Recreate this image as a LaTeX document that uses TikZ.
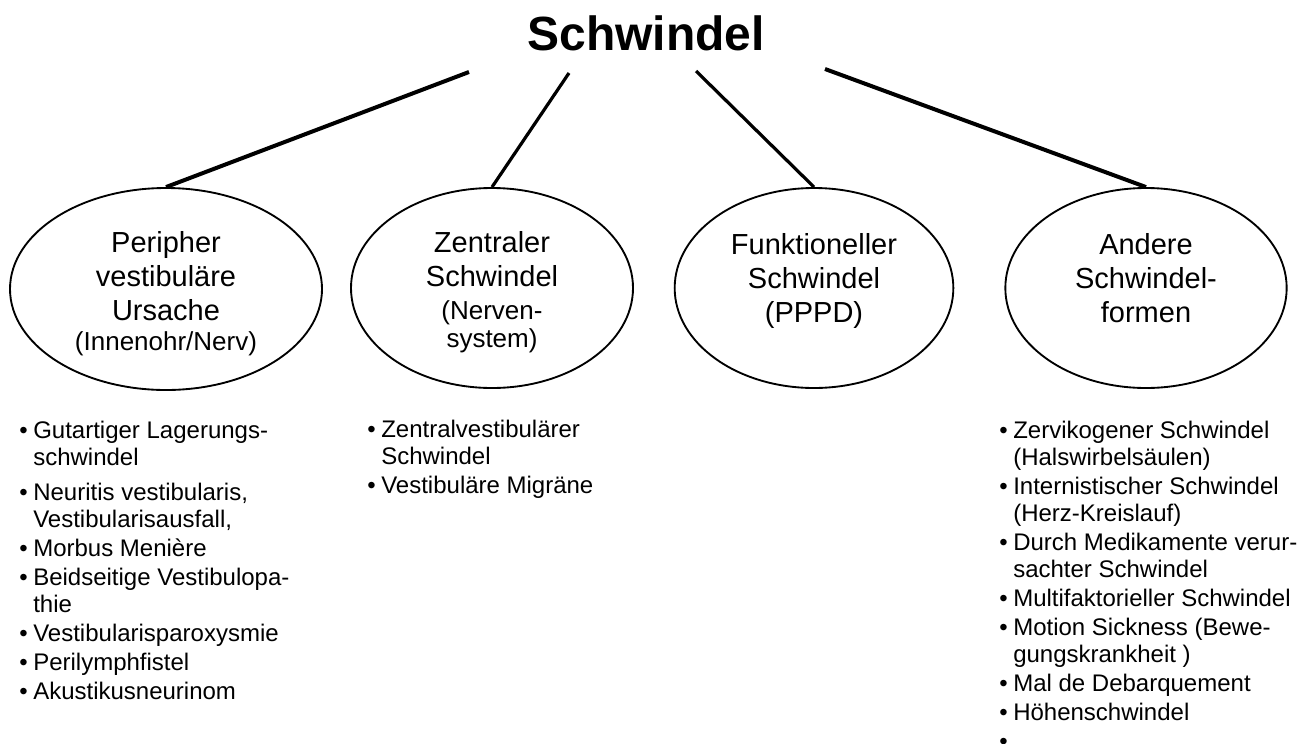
\documentclass[tikz,border=0pt]{standalone}
\usepackage{fontspec}
\setmainfont{Liberation Sans}
\usetikzlibrary{shapes.geometric}

\newcommand{\titelfont}{\fontsize{36}{40}\selectfont\bfseries}
\newcommand{\ovalfont}{\fontsize{21.75}{25.6}\selectfont}
\newcommand{\kleinfont}{\fontsize{19.5}{21}\selectfont}
\newcommand{\listfont}{\fontsize{18}{20.25}\selectfont}
\newcommand{\pkt}{\makebox[10.5pt][l]{\textbullet}}
\newcommand{\einr}{\hspace*{10.5pt}}

\begin{document}
\begin{tikzpicture}[x={(0.75pt,0)}, y={(0,-0.75pt)},
  oval/.style={draw, ellipse, line width=1.4pt, inner sep=0pt, minimum height=150pt},
  ovaltext/.style={align=center, anchor=north, inner sep=0pt, font=\ovalfont},
  liste/.style={align=left, anchor=north west, inner sep=0pt, font=\listfont},
  ast/.style={line width=3pt},
  zweig/.style={line width=2.4pt}]
  \useasboundingbox (0,0) rectangle (1312,743);

  % top: title
  \node[font=\titelfont, inner sep=0pt] (titel) at (646,33) {Schwindel};
  \coordinate (a1) at (469,72);
  \coordinate (a2) at (569,73);
  \coordinate (a3) at (696,71);
  \coordinate (a4) at (825,69);

  % middle: the four groups
  \node[oval, minimum width=234pt, minimum height=151.5pt] (e1) at (166,289) {};
  \node[oval, minimum width=211.5pt] (e2) at (492,288) {};
  \node[oval, minimum width=209pt] (e3) at (814,288) {};
  \node[oval, minimum width=211pt] (e4) at (1146,288) {};

  \node[ovaltext] (t1) at (166,231) {Peripher\\vestibuläre\\Ursache\\[-3.3pt]{\kleinfont(Innenohr/Nerv)}};
  \node[ovaltext] (t2) at (492,231) {Zentraler\\Schwindel\\[-1pt]{\kleinfont(Nerven-}\\[-4.7pt]{\kleinfont system)}};
  \node[ovaltext] (t3) at (814,233) {Funktioneller\\Schwindel\\(PPPD)};
  \node[ovaltext] (t4) at (1146,233) {Andere\\Schwindel-\\formen};

  \draw[ast] (a1) -- (e1.north);
  \draw[zweig] (a2) -- (e2.north);
  \draw[zweig] (a3) -- (e3.north);
  \draw[ast] (a4) -- (e4.north);

  % bottom: lists
  \node[liste] (l1) at (19,421) {\pkt Gutartiger Lagerungs-\\\einr schwindel\\[6pt]
    \pkt Neuritis vestibularis,\\\einr Vestibularisausfall,\\[1.5pt]
    \pkt Morbus Menière\\[1.5pt]
    \pkt Beidseitige Vestibulopa-\\\einr thie\\[1.5pt]
    \pkt Vestibularisparoxysmie\\[1.5pt]
    \pkt Perilymphfistel\\[1.5pt]
    \pkt Akustikusneurinom};
  \node[liste] (l2) at (367,420) {\pkt Zentralvestibulärer\\\einr Schwindel\\[1.5pt]
    \pkt Vestibuläre Migräne};
  \node[liste] (l4) at (999,421) {\pkt Zervikogener Schwindel\\\einr (Halswirbelsäulen)\\[1.5pt]
    \pkt Internistischer Schwindel\\\einr (Herz-Kreislauf)\\[1.5pt]
    \pkt Durch Medikamente verur-\\\einr sachter Schwindel\\[1.5pt]
    \pkt Multifaktorieller Schwindel\\[1.5pt]
    \pkt Motion Sickness (Bewe-\\\einr gungskrankheit )\\[1.5pt]
    \pkt Mal de Debarquement\\[1.5pt]
    \pkt Höhenschwindel\\[1.5pt]
    \pkt};
\end{tikzpicture}
\end{document}
